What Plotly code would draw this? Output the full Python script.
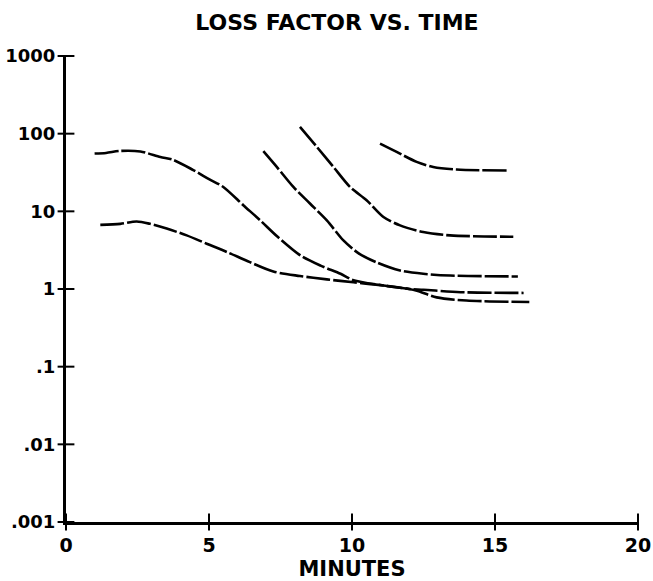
import plotly.graph_objects as go

# ---- data ----
a_x = [1.0, 1.4, 1.9, 2.6, 3.3, 3.75, 4.45, 5.0, 5.5, 6.2, 6.8, 7.4, 8.2, 8.9, 9.6, 10.05, 11.1, 12.0, 12.3, 12.96, 14.0, 16.2]
a_y = [55.6, 56.5, 60, 59, 50, 46, 34, 26, 20.6, 12, 7.6, 4.7, 2.7, 2.0, 1.57, 1.3, 1.11, 1.0, 0.94, 0.78, 0.71, 0.68]

b_x = [1.2, 1.9, 2.47, 2.94, 3.52, 4.22, 4.92, 5.62, 6.43, 7.25, 8.18, 9.12, 10.05, 11.1, 12.0, 12.5, 13.8, 16.0]
b_y = [6.7, 6.9, 7.4, 6.9, 6.0, 4.9, 3.83, 3.0, 2.22, 1.68, 1.47, 1.33, 1.22, 1.11, 1.0, 0.98, 0.91, 0.89]

c_x = [6.9, 7.37, 7.95, 8.53, 9.12, 9.7, 10.22, 10.86, 11.68, 12.49, 13.43, 15.8]
c_y = [59.5, 37.3, 20.6, 12.6, 7.65, 4.22, 2.9, 2.2, 1.73, 1.57, 1.49, 1.45]

d_x = [8.18, 8.77, 9.35, 9.93, 10.51, 11.1, 11.68, 12.49, 13.43, 15.64]
d_y = [122, 67.6, 37.3, 20.6, 13.9, 8.44, 6.59, 5.41, 4.9, 4.7]

e_x = [10.98, 11.56, 12.26, 12.84, 13.66, 15.47]
e_y = [74.6, 58.2, 43.3, 37.3, 34.5, 33.5]

x_ticks = [0, 5, 10, 15, 20]
x_tick_labels = ["0", "5", "10", "15", "20"]
y_ticks = [0.001, 0.01, 0.1, 1, 10, 100, 1000]
y_tick_labels = [".001", ".01", ".1", "1", "10", "100", "1000"]

X_MIN, X_MAX = 0, 20
Y_MIN, Y_MAX = 0.001, 1000

FONT = "DejaVu Sans"

fig = go.Figure()
for xs, ys in [(a_x, a_y), (b_x, b_y), (c_x, c_y), (d_x, d_y), (e_x, e_y)]:
    fig.add_trace(go.Scatter(
        x=xs, y=ys, mode="lines",
        line=dict(color="black", width=2.6, shape="spline", smoothing=0.8, dash="24px,3px"),
        showlegend=False, hoverinfo="skip"))

# crossing tick marks drawn as line markers on the axes
fig.add_trace(go.Scatter(
    x=x_ticks, y=[Y_MIN] * len(x_ticks), mode="markers", cliponaxis=False,
    marker=dict(symbol="line-ns", size=12, line=dict(color="black", width=2)),
    showlegend=False, hoverinfo="skip"))
fig.add_trace(go.Scatter(
    x=[X_MIN] * len(y_ticks), y=y_ticks, mode="markers", cliponaxis=False,
    marker=dict(symbol="line-ew", size=12, line=dict(color="black", width=2)),
    showlegend=False, hoverinfo="skip"))

fig.update_layout(
    width=653, height=581,
    margin=dict(l=66, r=15, t=56, b=59),
    paper_bgcolor="white", plot_bgcolor="white",
    font=dict(family=FONT, color="black"),
    title=dict(text="<b>LOSS FACTOR VS. TIME</b>", x=337/653, xanchor="center",
               y=1 - 22/581, yanchor="middle", font=dict(size=22, family=FONT)),
    xaxis=dict(range=[X_MIN, X_MAX], tickvals=x_ticks, ticktext=["<b>%s</b>" % t for t in x_tick_labels],
               ticks="", automargin=False, ticklabelstandoff=4,
               showline=True, linewidth=2.5, linecolor="black", showgrid=False, zeroline=False,
               tickfont=dict(size=19, family=FONT),
               title=dict(text="<b>MINUTES</b>", font=dict(size=21, family=FONT), standoff=13)),
    yaxis=dict(type="log", range=[-3, 3], tickvals=y_ticks, ticktext=["<b>%s</b>" % t for t in y_tick_labels],
               ticks="", automargin=False, ticklabelstandoff=4,
               showline=True, linewidth=3, linecolor="black", showgrid=False, zeroline=False,
               tickfont=dict(size=18, family=FONT)),
)

fig.write_html("out.html")
